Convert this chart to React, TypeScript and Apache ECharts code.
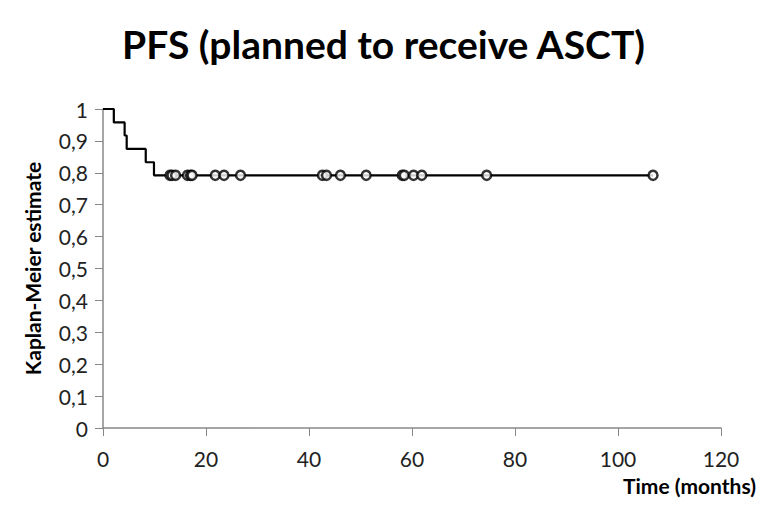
import React, { useEffect, useRef } from "react";
import * as echarts from "echarts";

const titleText = "PFS (planned to receive ASCT)";
const xAxisName = "Time (months)";
const yAxisName = "Kaplan-Meier estimate";

// Kaplan-Meier step curve (time, survival)
const stepTimes = [0, 2.1, 4.2, 4.6, 8.3, 9.9, 106.8];
const stepSurvival = [1, 0.958, 0.917, 0.875, 0.833, 0.792, 0.792];

// Censored observations (months)
const censorTimes = [13.0, 13.4, 14.1, 16.4, 17.0, 17.3, 21.8, 23.5, 26.7, 42.6, 43.4, 46.1, 51.1, 58.1, 58.5, 60.3, 61.9, 74.5, 106.8];

const xTicks = [0, 20, 40, 60, 80, 100, 120];

function survivalAt(t: number): number {
  let s = stepSurvival[0];
  for (let i = 0; i < stepTimes.length; i++) {
    if (stepTimes[i] <= t) s = stepSurvival[i];
  }
  return s;
}

export default function App() {
  const ref = useRef<HTMLDivElement>(null);
  useEffect(() => {
    if (!ref.current) return;
    const chart = echarts.init(ref.current, null, { renderer: "svg" });
    const font = "Lato";
    chart.setOption({
      animation: false,
      backgroundColor: "#ffffff",
      title: {
        text: titleText,
        left: "center",
        top: 11,
        textStyle: { fontFamily: font, fontWeight: "bold", fontSize: 39, color: "#000" },
      },
      grid: { left: 95, right: 37, top: 101, bottom: 70 },
      xAxis: {
        type: "value",
        min: xTicks[0],
        max: xTicks[xTicks.length - 1],
        interval: 20,
        name: xAxisName,
        nameLocation: "end",
        nameGap: 0,
        nameTextStyle: {
          fontFamily: font,
          fontWeight: "bold",
          fontSize: 21,
          color: "#000",
          align: "right",
          verticalAlign: "top",
          padding: [47, -35, 0, 0],
        },
        axisLine: { lineStyle: { color: "#888", width: 1.5 } },
        axisTick: { show: true, length: 8, lineStyle: { color: "#888" } },
        axisLabel: { fontFamily: font, fontSize: 21, color: "#222", margin: 20 },
        splitLine: { show: false },
      },
      yAxis: {
        type: "value",
        min: 0,
        max: 1,
        interval: 0.1,
        name: yAxisName,
        nameLocation: "middle",
        nameGap: 60,
        nameRotate: 90,
        nameTextStyle: { fontFamily: font, fontWeight: "bold", fontSize: 21, color: "#000" },
        axisLine: { show: true, lineStyle: { color: "#888", width: 1.5 } },
        axisTick: { show: true, length: 8, lineStyle: { color: "#888" } },
        axisLabel: {
          fontFamily: font,
          fontSize: 21,
          color: "#222",
          margin: 15,
          formatter: (v: number) => String(Math.round(v * 10) / 10).replace(".", ","),
        },
        splitLine: { show: false },
      },
      series: [
        {
          type: "line",
          step: "end",
          data: stepTimes.map((t, i) => [t, stepSurvival[i]]),
          showSymbol: false,
          symbol: "none",
          lineStyle: { color: "#000", width: 2.2 },
          z: 2,
        },
        {
          type: "scatter",
          data: censorTimes.map((t) => [t, survivalAt(t)]),
          symbol: "circle",
          symbolSize: 9,
          itemStyle: { color: "#fff", borderColor: "#000", borderWidth: 2.5 },
          z: 3,
        },
      ],
    });
    return () => chart.dispose();
  }, []);
  return <div ref={ref} style={{ width: 751, height: 490 }} />;
}
